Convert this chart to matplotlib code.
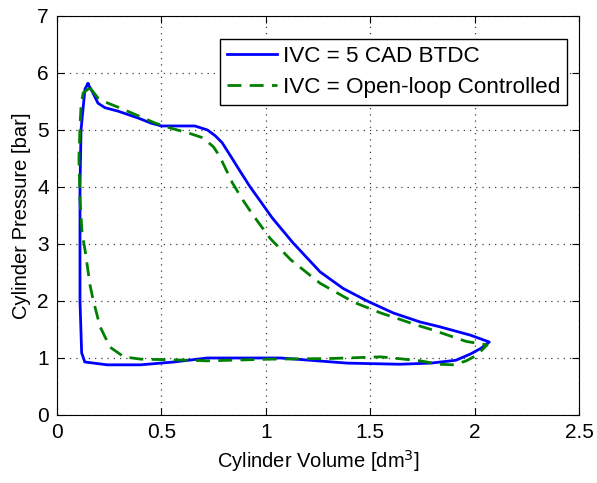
import numpy as np
import matplotlib
matplotlib.use("Agg")
import matplotlib.pyplot as plt

# p-V loop, IVC = 5 CAD BTDC (volume in dm3, pressure in bar)
blue_v = [0.148, 0.172, 0.196, 0.23, 0.292, 0.388, 0.45, 0.50, 0.58, 0.66,
          0.72, 0.757, 0.79, 0.83, 0.876, 0.925, 0.97, 1.03, 1.13, 1.26, 1.37,
          1.485, 1.61, 1.74, 1.83, 1.98, 2.07,
          2.03, 1.98, 1.91, 1.79, 1.64, 1.39, 1.07, 0.72, 0.56, 0.40, 0.24,
          0.133, 0.118, 0.11, 0.11, 0.115, 0.124, 0.134, 0.148]
blue_p = [5.81, 5.65, 5.47, 5.39, 5.33, 5.21, 5.12, 5.07, 5.07, 5.07,
          5.0, 4.9, 4.78, 4.55, 4.28, 4.0, 3.77, 3.46, 3.02, 2.51, 2.22,
          2.0, 1.79, 1.63, 1.55, 1.40, 1.28,
          1.17, 1.07, 0.96, 0.91, 0.89, 0.91, 1.0, 1.0, 0.93, 0.88, 0.88,
          0.93, 1.09, 2.0, 4.0, 5.0, 5.35, 5.72, 5.81]

# p-V loop, IVC = open-loop controlled
green_v = [0.158, 0.196, 0.244, 0.292, 0.388, 0.47, 0.546, 0.627, 0.70, 0.75,
           0.78, 0.81, 0.84, 0.89, 0.94, 0.99, 1.02, 1.12, 1.26, 1.42, 1.55,
           1.64, 1.72, 1.80, 1.96, 2.06,
           2.01, 1.96, 1.90, 1.83, 1.74, 1.66, 1.55, 1.30, 1.03, 0.72, 0.64,
           0.40, 0.32, 0.254, 0.206, 0.173, 0.158, 0.134, 0.12, 0.11, 0.105,
           0.11, 0.115, 0.125, 0.158]
green_p = [5.74, 5.56, 5.47, 5.40, 5.25, 5.12, 5.03, 4.95, 4.86, 4.70,
           4.53, 4.30, 4.07, 3.77, 3.50, 3.25, 3.10, 2.72, 2.31, 1.98, 1.79,
           1.68, 1.58, 1.49, 1.29, 1.23,
           1.05, 0.95, 0.88, 0.89, 0.95, 0.98, 1.02, 0.99, 0.98, 0.95, 0.96,
           0.98, 1.02, 1.19, 1.55, 2.02, 2.28, 2.9, 3.19, 3.77, 4.5,
           5.05, 5.42, 5.65, 5.74]

xticks = [0, 0.5, 1, 1.5, 2, 2.5]
yticks = [0, 1, 2, 3, 4, 5, 6, 7]

plt.rcParams['font.family'] = ['Liberation Sans', 'DejaVu Sans']

fig = plt.figure(figsize=(5.97, 4.83), dpi=100)
ax = fig.add_axes([0.0955, 0.1408, 0.8745, 0.8262])

ax.plot(blue_v, blue_p, color=(0, 0, 1), linewidth=2, solid_joinstyle='round',
        label="IVC = 5 CAD BTDC")
ax.plot(green_v, green_p, color=(0, 0.5, 0), linewidth=2, dashes=(5, 3),
        dash_joinstyle='round', label="IVC = Open-loop Controlled")

ax.set_xlim(0, 2.5)
ax.set_ylim(0, 7)
ax.set_xticks(xticks)
ax.set_xticklabels(["0", "0.5", "1", "1.5", "2", "2.5"])
ax.set_yticks(yticks)
ax.tick_params(direction='in', top=True, right=True, length=5, labelsize=15, pad=6)
ax.grid(True, color='0.25', linestyle=(0, (1, 4)), linewidth=0.9)

ax.set_xlabel("Cylinder Volume [dm$^3$]", fontsize=14.5)
ax.set_ylabel("Cylinder Pressure [bar]", fontsize=14.5)

leg = ax.legend(loc='upper right', fontsize=16.2, fancybox=False, framealpha=1,
                edgecolor='black', handlelength=2.2, borderpad=0.3,
                labelspacing=0.45, handletextpad=0.27,
                bbox_to_anchor=(0.998, 0.97))
leg.get_frame().set_linewidth(1)

fig.savefig("out.png", dpi=100)
